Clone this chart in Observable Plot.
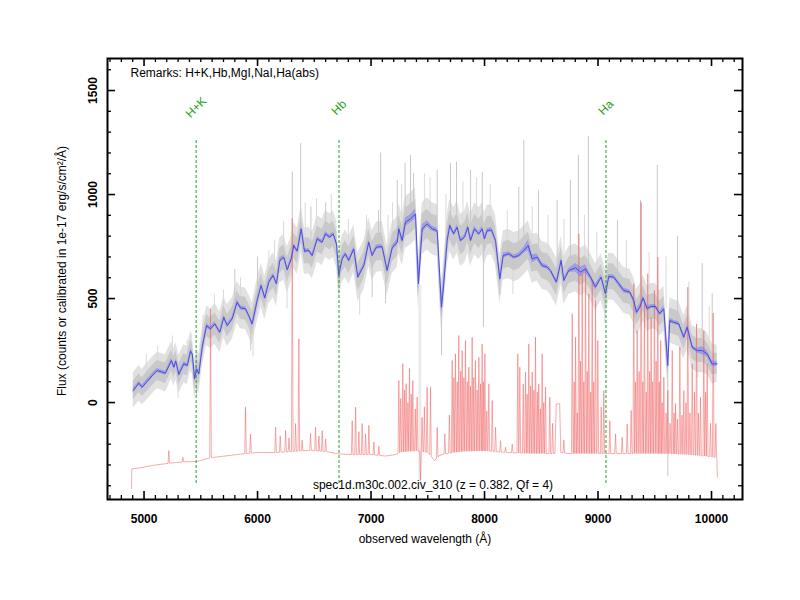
<!DOCTYPE html>
<html><head><meta charset="utf-8">
<script src="https://cdn.jsdelivr.net/npm/d3@7"></script>
<script src="https://cdn.jsdelivr.net/npm/@observablehq/plot@0.6"></script>
<style>body{margin:0;background:#fff}</style>
</head><body><div id="chart"></div>
<script>
// ---- smoothed spectrum (blue) ----
const waveBlue = [
4905,4930,4954,4984,5028,5070,5116,5150,5189,5242,
5263,5280,5307,5351,5381,5410,5425,5445,5463,5483,
5513,5551,5586,5624,5668,5703,5733,5777,5821,5850,
5894,5923,5953,5997,6032,6064,6099,6138,6167,6196,
6232,6262,6297,6320,6350,6385,6414,6452,6482,6526,
6570,6599,6637,6667,6696,6716,6746,6775,6804,6848,
6884,6937,6980,7010,7048,7098,7142,7187,7231,7245,
7275,7304,7348,7392,7418,7451,7495,7539,7583,7621,
7641,7671,7694,7729,7759,7788,7824,7853,7877,7912,
7950,7980,8000,8024,8062,8097,8135,8165,8214,8258,
8302,8346,8385,8420,8464,8508,8552,8581,8634,8675,
8699,8743,8802,8846,8890,8934,8978,9028,9066,9095,
9139,9183,9227,9280,9315,9339,9368,9398,9433,9468,
9506,9544,9580,9615,9632,9668,9712,9756,9786,9830,
9874,9918,9962,10006,10050];
const fluxBlue = [
58,75,93,74,102,128,154,148,141,202,
170,199,135,186,178,247,234,114,162,138,
266,370,354,378,338,410,370,403,483,455,
451,418,378,491,563,503,579,611,571,683,
699,638,691,755,728,835,728,731,707,787,
771,811,795,811,763,611,691,715,683,739,
603,659,771,707,747,750,635,744,771,835,
779,867,883,907,571,835,859,835,827,458,
571,779,851,811,843,779,795,843,779,835,
811,835,787,827,830,779,595,707,715,699,
707,731,755,691,699,659,651,635,579,683,
587,635,648,627,643,603,555,603,523,606,
603,571,539,531,491,434,458,503,451,462,
462,427,451,178,394,386,378,314,362,266,
250,250,234,186,186];
const errBlue = [
12,10,10,10,10,10,10,10,10,12,
10,10,12,10,10,12,12,15,15,12,
12,10,10,10,10,10,10,10,12,10,
10,10,12,10,10,10,10,10,10,12,
10,10,10,10,10,12,10,10,10,10,
10,10,10,10,10,15,10,10,10,10,
12,10,10,10,10,10,12,10,15,20,
15,20,20,25,60,20,15,12,12,35,
30,15,12,10,12,10,10,12,10,12,
10,12,10,10,12,10,15,12,10,10,
12,15,25,20,15,12,10,10,12,10,
12,10,20,25,20,12,15,10,12,10,
10,12,12,10,12,15,15,12,12,10,
10,10,15,30,12,10,10,12,12,10,
10,20,15,15,12];
// ---- half width of the raw (grey) spectrum: full spread and dense core ----
const greyHalf = [
85,85,85,85,88,88,88,88,90,90,
90,90,92,92,92,95,95,95,95,95,
95,95,95,98,98,100,100,100,100,100,
100,100,102,102,105,105,105,108,108,108,
110,110,110,110,112,112,112,112,112,112,
112,112,112,112,112,112,112,115,115,115,
118,118,118,120,120,120,120,122,122,122,
122,125,125,125,125,125,125,125,125,120,
120,125,125,125,125,125,125,125,125,125,
125,125,125,122,120,120,118,118,118,118,
118,118,118,118,115,115,115,115,115,115,
115,115,115,115,115,112,112,112,112,112,
112,110,110,110,110,110,110,110,110,110,
110,110,108,108,108,108,108,105,105,105,
105,105,100,95,90];
const greyCore = [
45,45,45,45,48,48,48,48,50,50,
50,50,50,50,50,52,52,52,52,52,
52,52,52,54,54,55,55,55,55,55,
55,55,56,56,58,58,58,60,60,60,
60,60,60,60,62,62,62,62,62,62,
62,62,62,62,62,62,62,64,64,64,
65,65,65,66,66,66,66,68,68,68,
68,70,70,70,70,70,70,70,70,66,
66,70,70,70,70,70,70,70,70,70,
70,70,70,68,66,66,65,65,65,65,
65,65,65,65,64,64,64,64,64,64,
64,64,64,64,64,62,62,62,62,62,
62,60,60,60,60,60,60,60,60,60,
60,60,60,60,60,60,60,58,58,58,
58,58,55,52,50];
// ---- grey spikes (raw spectrum outliers) ----
const greySpikeW    = [5463,5800,5940,6000,6306,6380,6470,6600,6716,7010,7066,7085,7128,7231,7300,7348,7375,7583,7621,7700,7753,7877,7980,7990,8135,8302,8346,8476,8640,8757,8827,8915,9171,9374,9522,9615,9700,9918,10006];
const greySpikeFrom = [140,430,380,490,700,760,750,800,611,700,740,750,630,780,860,880,890,830,458,840,840,800,830,780,595,710,730,680,600,640,640,630,580,460,460,178,380,250,190];
const greySpikeTo   = [30,640,250,700,1108,1245,940,960,553,505,923,1200,476,1068,1150,1188,1100,1116,226,1150,1156,1116,1107,361,515,1035,1260,1020,972,1068,1188,1280,875,972,1140,-355,800,668,523];
// fainter, shorter outliers giving the raw spectrum its texture
const greyFaintW    = [5020,5120,5250,5300,5380,5520,5620,5700,5850,5960,6100,6150,6230,6260,6420,6520,6650,6800,6900,6960,7150,7190,7270,7470,7520,7660,7810,7930,8050,8200,8250,8420,8560,8700,8880,8990,9060,9250,9450,9600,9800,9880,9980];
const greyFaintFrom = [100,150,200,130,180,260,380,400,450,380,570,600,700,640,730,780,810,690,600,700,640,740,780,840,850,780,790,830,830,710,700,690,650,590,640,560,530,535,455,450,330,250,220];
const greyFaintTo   = [230,270,320,20,300,420,520,540,600,220,730,780,870,450,960,980,1000,880,420,900,900,960,1050,1100,1080,1000,1060,1080,1050,920,520,940,900,880,900,820,380,780,720,700,580,120,460];
// ---- sky / error spectrum (red) ----
const redBaseW = [4890,4892,4950,5100,5218,5350,5469,5586,5700,5865,6000,6159,6300,6450,6600,6716,6850,7000,7128,7216,7260,7400,7500,7540,7560,7600,7660,7800,8000,8200,8400,8620,8632,8662,8672,8750,9000,9300,9600,9800,10000,10046,10052];
const redBaseF = [-414,-319,-315,-300,-292,-285,-283,-265,-258,-247,-240,-240,-235,-230,-235,-247,-250,-250,-257,-250,-238,-232,-240,-265,-279,-255,-245,-235,-232,-240,-245,-245,-8,-5,-240,-245,-245,-245,-245,-250,-260,-265,-359];
const redSpikeW = [
5218,5342,5586,5894,5938,6159,6200,6247,6277,6306,6335,6364,6393,6467,6511,6541,6570,6600,
6834,6864,6893,6922,6952,6981,7025,7069,
7245,7262,7280,7295,7309,7325,7339,7354,7368,7390,7406,7436,7450,7470,7494,7524,7583,7650,7690,
7715,7730,7744,7760,7773,7790,7803,7818,7832,7848,7862,7876,7891,7905,7920,7935,7950,7965,7979,7990,8003,
8020,8038,8068,8097,8141,8185,8244,
8293,8311,8341,8361,8375,8390,8405,8420,8435,8449,8465,8478,8493,8508,8522,8537,8575,8600,8699,
8773,8790,8802,8817,8831,8846,8861,8875,8890,8905,8919,8935,8949,8962,8978,8998,9028,9051,
9104,9154,9213,9257,9292,
9315,9330,9345,9362,9380,9395,9409,9425,9438,9455,9468,9482,9497,9512,9527,9540,9552,9565,9580,9600,
9615,9635,9654,9670,9683,9700,9721,9740,9756,9775,9791,9810,9830,9850,9868,9885,9903,9932,9947,9962,9991,10015,10038];
const redSpikeTop = [
-231,-263,450,-22,-152,-118,-160,-135,-170,885,-101,306,-180,-149,-119,-160,-135,-175,
-87,-22,-140,-101,-150,-109,-190,-210,
106,20,187,60,91,0,164,40,106,-30,26,-375,-71,-20,74,74,-119,-150,-60,
202,120,234,100,322,150,250,120,298,100,170,80,314,120,202,60,218,90,282,100,234,
-40,90,10,-119,-183,-215,-200,
234,170,90,146,40,282,80,146,60,314,50,90,-30,234,0,74,26,-100,-180,
427,100,314,-50,811,200,619,100,651,150,523,50,587,100,491,298,-22,58,
-87,-151,-167,-103,-38,
571,100,346,150,963,100,491,50,619,150,410,100,539,200,699,100,298,0,122,-50,
58,-100,250,-50,-5,-80,266,-60,58,0,555,-50,186,50,378,-50,26,346,50,186,-100,430,-101];
// ---- identified features ----
const lineNames = ["H+K","Hb","Ha"];
const lineWave = [5459,6718,9070];
// ---- ticks & texts ----
const xTickLabels = [5000,6000,7000,8000,9000,10000];
const yTickLabels = [0,500,1000,1500];
const xTitle = "observed wavelength (Å)";
const yTitle = "Flux (counts or calibrated in 1e-17 erg/s/cm²/Å)";
const remarks = "Remarks: H+K,Hb,MgI,NaI,Ha(abs)";
const caption = "spec1d.m30c.002.civ_310 (z = 0.382, Qf = 4)";

// ---- build tables ----
const blue = waveBlue.map((w,i)=>({w, f: fluxBlue[i], e: errBlue[i], g: greyHalf[i], c: greyCore[i]}));
const greySpikes = greySpikeW.map((w,i)=>({w, a: greySpikeFrom[i], b: greySpikeTo[i]}));
const greyFaint = greyFaintW.map((w,i)=>({w, a: greyFaintFrom[i], b: greyFaintTo[i]}));
const baseScale = d3.scaleLinear().domain(redBaseW).range(redBaseF);
const half = 7;
const red = [];
redBaseW.forEach((w,i)=>{ if (!redSpikeW.some(s=>Math.abs(s-w)<half+0.5)) red.push({w, f: redBaseF[i]}); });
redSpikeW.forEach((w,i)=>{
  red.push({w: w-half, f: baseScale(w-half)}, {w, f: redSpikeTop[i]}, {w: w+half, f: baseScale(w+half)});
});
red.sort((a,b)=>a.w-b.w);

const W=800, H=600, mL=107, mR=58, mT=58, mB=101;
const fW = W-mL-mR, fH = H-mT-mB;
const xMinor = d3.range(4700, 10300, 100).filter(v=>!xTickLabels.includes(v));
const yMinor = d3.range(-400, 1700, 100).filter(v=>!yTickLabels.includes(v));
const font = "Liberation Sans, Arial, Helvetica, sans-serif";
const T = {fontSize: 12, fill: "black", lineAnchor: "middle", textAnchor: "middle"};

const chart = Plot.plot({
  width: W, height: H,
  marginLeft: mL, marginRight: mR, marginTop: mT, marginBottom: mB,
  x: {domain: [4678, 10273], axis: null},
  y: {domain: [-466, 1654], axis: null},
  style: {fontFamily: font, fontSize: "12px", background: "white", color: "black"},
  marks: [
    // grey raw spectrum
    Plot.areaY(blue, {x: "w", y1: d=>d.f-d.g, y2: d=>d.f+d.g, fill: "#e1e1e1"}),
    Plot.ruleX(greyFaint, {x: "w", y1: "a", y2: "b", stroke: "#d9d9d9", strokeWidth: 1}),
    Plot.areaY(blue, {x: "w", y1: d=>d.f-d.c, y2: d=>d.f+d.c, fill: "#c9c9c9"}),
    Plot.ruleX([7430], {x: d=>d, y1: -375, y2: 570, stroke: "#ebebeb", strokeWidth: 3}),
    Plot.ruleX(greySpikes, {x: "w", y1: "a", y2: "b", stroke: "#c8c8c8", strokeWidth: 1}),
    // red sky
    Plot.line(red, {x: "w", y: "f", stroke: "#f06a6a", strokeOpacity: 0.7, strokeWidth: 0.8}),
    // blue smoothed
    Plot.areaY(blue, {x: "w", y1: d=>d.f-d.e, y2: d=>d.f+d.e, fill: "#7b7bf0", fillOpacity: 0.55}),
    Plot.line(blue, {x: "w", y: "f", stroke: "#4a4ae6", strokeWidth: 1}),
    // features
    Plot.ruleX(lineWave, {x: d=>d, insetTop: 82, insetBottom: 16, stroke: "#22a022", strokeWidth: 1, strokeDasharray: "3,2"}),
    Plot.text(lineNames, {...T, x: (d,i)=>lineWave[i], frameAnchor: "top", dy: 49, rotate: -45, text: d=>d, fill: "#22a022"}),
    // frame & ticks
    Plot.frame({stroke: "black", strokeWidth: 2}),
    Plot.tickX(xMinor, {x: d=>d, insetTop: fH-4, stroke: "black", strokeWidth: 1.3}),
    Plot.tickX(xMinor, {x: d=>d, insetBottom: fH-4, stroke: "black", strokeWidth: 1.3}),
    Plot.tickX(xTickLabels, {x: d=>d, insetTop: fH-8, stroke: "black", strokeWidth: 1.6}),
    Plot.tickX(xTickLabels, {x: d=>d, insetBottom: fH-8, stroke: "black", strokeWidth: 1.6}),
    Plot.tickY(yMinor, {y: d=>d, insetRight: fW-4, stroke: "black", strokeWidth: 1.3}),
    Plot.tickY(yMinor, {y: d=>d, insetLeft: fW-4, stroke: "black", strokeWidth: 1.3}),
    Plot.tickY(yTickLabels, {y: d=>d, insetRight: fW-8, stroke: "black", strokeWidth: 1.6}),
    Plot.tickY(yTickLabels, {y: d=>d, insetLeft: fW-8, stroke: "black", strokeWidth: 1.6}),
    // tick labels
    Plot.text(xTickLabels, {...T, x: d=>d, frameAnchor: "bottom", dy: 20, text: d=>String(d), fontWeight: "bold"}),
    Plot.text(yTickLabels, {...T, y: d=>d, frameAnchor: "left", dx: -14, rotate: -90, text: d=>String(d), fontWeight: "bold"}),
    // titles
    Plot.text([xTitle], {...T, frameAnchor: "bottom", dy: 40, text: d=>d}),
    Plot.text([yTitle], {...T, frameAnchor: "left", dx: -45, dy: -8, rotate: -90, text: d=>d}),
    Plot.text([remarks], {...T, frameAnchor: "top-left", dx: 23, dy: 15, textAnchor: "start", text: d=>d}),
    Plot.text([caption], {...T, frameAnchor: "bottom", dx: 8, dy: -14, text: d=>d})
  ]
});
document.getElementById("chart").appendChild(chart);
</script>
</body></html>
